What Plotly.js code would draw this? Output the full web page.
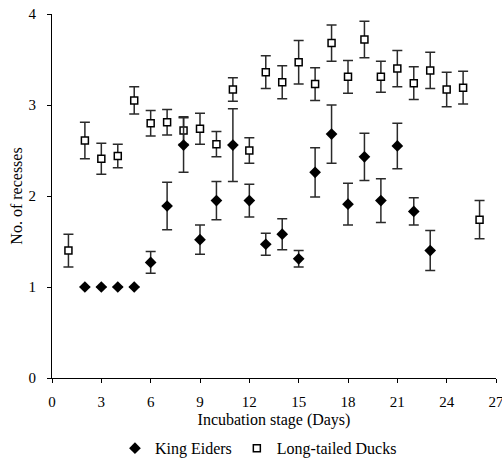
<!DOCTYPE html>
<html>
<head>
<meta charset="utf-8">
<script src="https://cdn.plot.ly/plotly-3.0.1.min.js"></script>
<style>html,body{margin:0;padding:0;background:#fff;}#chart{width:502px;height:461px;}</style>
</head>
<body>
<div id="chart"></div>
<script>
// Long-tailed Ducks
const ltdDays = [1,2,3,4,5,6,7,8,9,10,11,12,13,14,15,16,17,18,19,20,21,22,23,24,25,26];
const ltdMean = [1.40,2.61,2.41,2.44,3.05,2.80,2.81,2.72,2.74,2.57,3.17,2.50,3.36,3.25,3.47,3.23,3.68,3.31,3.72,3.31,3.40,3.24,3.38,3.17,3.19,1.74];
const ltdErr  = [0.18,0.20,0.17,0.13,0.15,0.14,0.14,0.15,0.17,0.14,0.13,0.14,0.18,0.18,0.24,0.18,0.20,0.18,0.20,0.17,0.20,0.18,0.20,0.19,0.18,0.21];
// King Eiders
const keDays = [2,3,4,5,6,7,8,9,10,11,12,13,14,15,16,17,18,19,20,21,22,23];
const keMean = [1,1,1,1,1.27,1.89,2.56,1.52,1.95,2.56,1.95,1.47,1.58,1.31,2.26,2.68,1.91,2.43,1.95,2.55,1.83,1.40];
const keErr  = [null,null,null,null,0.12,0.26,0.30,0.16,0.21,0.40,0.18,0.12,0.17,0.09,0.27,0.32,0.23,0.26,0.24,0.25,0.15,0.22];

const xTicks = [0,3,6,9,12,15,18,21,24,27];
const yTicks = [0,1,2,3,4];

const fam = 'Liberation Serif, Times New Roman, serif';
const tickFont = {family: fam, size: 15, color: '#000'};
const titleFont = {family: fam, size: 16, color: '#000'};
const errStyle = {type: 'data', visible: true, thickness: 1.5, width: 5, color: '#2a2a2a'};

const traces = [
  {
    x: ltdDays, y: ltdMean, type: 'scatter', mode: 'markers', name: 'Long-tailed Ducks',
    legendrank: 2,
    marker: {symbol: 'square', size: 7, color: '#fff', line: {color: '#000', width: 1.5}},
    error_y: Object.assign({array: ltdErr}, errStyle)
  },
  {
    x: keDays, y: keMean, type: 'scatter', mode: 'markers', name: 'King Eiders',
    legendrank: 1,
    marker: {symbol: 'diamond', size: 9, color: '#000', line: {width: 0}},
    error_y: Object.assign({array: keErr}, errStyle)
  }
];

const layout = {
  width: 502, height: 461,
  margin: {l: 52, r: 6, t: 14, b: 83, autoexpand: false},
  paper_bgcolor: '#fff', plot_bgcolor: '#fff',
  font: titleFont,
  showlegend: true,
  legend: {orientation: 'h', x: 0.465, xanchor: 'center', y: -0.193, yanchor: 'middle', font: titleFont, itemwidth: 30, bgcolor: 'rgba(0,0,0,0)'},
  xaxis: {
    range: [0, 27], tickvals: xTicks, ticktext: xTicks.map(String), automargin: false,
    showline: true, linecolor: '#000', linewidth: 1, ticks: 'outside', ticklen: 4, tickcolor: '#000',
    showgrid: false, zeroline: false, tickfont: tickFont, ticklabeloverflow: 'allow', ticklabelstandoff: 6,
    title: {text: 'Incubation stage (Days)', font: titleFont, standoff: 4}
  },
  yaxis: {
    range: [0, 4], tickvals: yTicks, ticktext: yTicks.map(String), automargin: false,
    showline: true, linecolor: '#000', linewidth: 1, ticks: 'outside', ticklen: 4, tickcolor: '#000',
    showgrid: false, zeroline: false, tickfont: tickFont, ticklabelstandoff: 8,
    title: {text: 'No. of recesses', font: titleFont, standoff: 1}
  }
};

Plotly.newPlot('chart', traces, layout, {displayModeBar: false, staticPlot: true});
</script>
</body>
</html>
